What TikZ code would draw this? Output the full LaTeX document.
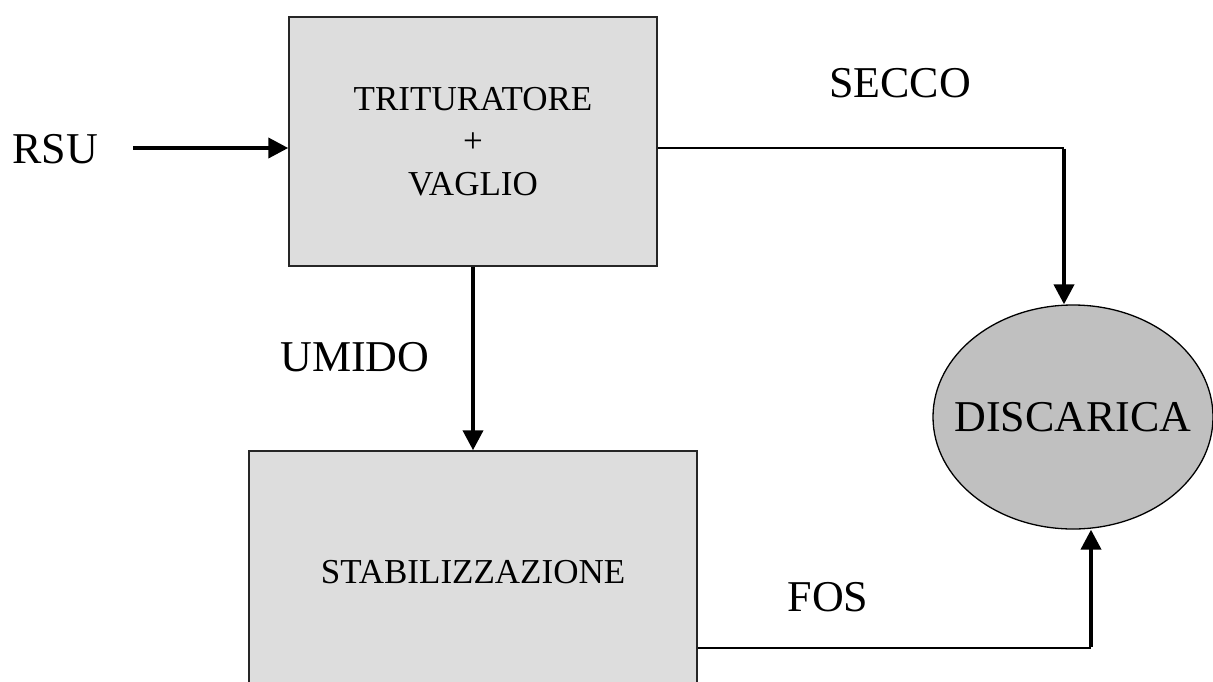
\documentclass[tikz,border=0pt]{standalone}
\usepackage{fontspec}
\setmainfont{Liberation Serif}
\usetikzlibrary{shapes.geometric,arrows.meta}

\definecolor{boxgray}{gray}{0.867}
\definecolor{discgray}{gray}{0.753}

\begin{document}
\begin{tikzpicture}[x=1pt,y=-1pt,>={Triangle[width=20pt,length=20pt]},
   blocco/.style={draw=black!85,fill=boxgray,line width=1.5pt,inner sep=0pt,
                  align=center,font=\fontsize{35}{42.5}\selectfont},
   scritta/.style={font=\fontsize{44}{48}\selectfont,inner sep=0pt},
   flusso/.style={->,line width=4pt},
   linea/.style={line width=1.3pt}]
   \useasboundingbox (0,0) rectangle (1213,681);
   \clip (0,0) rectangle (1213,681);

   \node[blocco,minimum width=368pt,minimum height=249pt] (trit) at (473,141.5)
        {TRITURATORE\\+\\VAGLIO};
   \node[blocco,minimum width=448pt,minimum height=242pt] (stab) at (473,572)
        {STABILIZZAZIONE};
   \node[ellipse,draw,fill=discgray,line width=1.3pt,minimum width=280pt,
         minimum height=224pt,inner xsep=-30pt,inner ysep=0pt,
         font=\fontsize{44}{48}\selectfont]
        (disc) at (1073,417) {DISCARICA};

   \node[scritta] (rsu) at (55,149) {RSU};
   \node[scritta] (secco) at (900,83) {SECCO};
   \node[scritta] (umido) at (355,357) {UMIDO};
   \node[scritta] (fos) at (828,597) {FOS};

   \coordinate (in) at (133,148);
   \coordinate (k1) at (1064,148);
   \coordinate (k2) at (1091,648);

   \draw [flusso] (in) -- (in -| trit.west) ;
   \draw [flusso] (trit) -- (stab) ;
   \draw [linea] (trit.east |- k1) -- (k1) ;
   \draw [flusso] ([yshift=-0.65pt]k1) -- (k1 |- disc.north) ;
   \draw [linea] (stab.east |- k2) -- (k2) ;
   \draw [flusso] ([yshift=0.65pt]k2) -- (k2 |- disc.south) ;
 \end{tikzpicture}
\end{document}
